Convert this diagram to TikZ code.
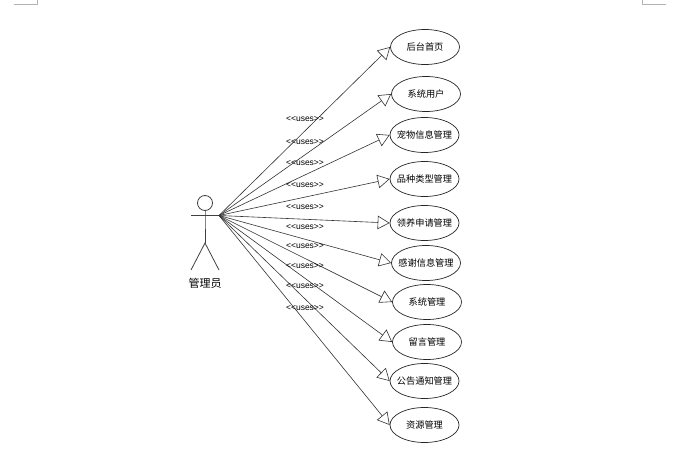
\documentclass[tikz,border=0pt]{standalone}
\usepackage{fontspec}
\setmainfont{Liberation Sans}
\newfontfamily\cjk{Noto Sans CJK SC}
\usetikzlibrary{arrows.meta,shapes.geometric}
\tikzset{
  usecase/.style={draw=black!85,ellipse,minimum width=69pt,minimum height=35pt,inner sep=0pt,font=\cjk\fontsize{9.2}{10}\selectfont,line width=0.7pt},
  assoc/.style={draw=black!80,line width=0.6pt,-{Triangle[open,length=12pt,width=13.5pt,fill=white]}},
  stick/.style={draw=black!75,line width=0.8pt},
  stereo/.style={font=\fontsize{8.5}{9}\selectfont,inner sep=0pt},
  actorname/.style={font=\cjk\fontsize{11}{12}\selectfont,inner sep=0pt},
  pagemark/.style={draw=black!30,line width=0.7pt}
}
\begin{document}
\begin{tikzpicture}[x=1pt,y=-1pt]
\useasboundingbox (0,0) rectangle (693,457);
\draw[pagemark] (14,4) -- (37,4) -- (37,0);
\draw[pagemark] (642,0) -- (642,4) -- (666,4);
\node[draw=black!75,line width=0.8pt,circle,minimum size=15pt,inner sep=0pt] (head) at (205,203) {};
\coordinate (armL) at (191,215.5);
\coordinate (hand) at (219,215.5);
\coordinate (hip) at (205,243);
\coordinate (footL) at (191,270);
\coordinate (footR) at (219,270);
\coordinate (neck) at (205,215.5);
\draw[stick] (armL) -- (hand);
\draw[stick] (head) -- (neck) -- (hip);
\draw[stick] (footL) -- (hip) -- (footR);
\node[actorname] (actor) at (205,283) {管理员};
\foreach \n/\x/\y/\t in {a/425/47/后台首页,b/426/94/系统用户,c/424.5/135/宠物信息管理,d/424.5/179/品种类型管理,e/424.5/223/领养申请管理,f/426/263/感谢信息管理,g/427/302/系统管理,h/427/342/留言管理,i/424.5/381/公告通知管理,j/424.5/425/资源管理}{
  \node[usecase] (\n) at (\x,\y) {\makebox[20pt][c]{\t}};
  \draw[assoc] (hand) -- (\n.west);
}
\foreach \m/\y in {1/119,2/142,3/163,4/185,5/207,6/227,7/246,8/266,9/286,10/308}{
  \node[stereo] (uses\m) at (305,\y) {<{}<uses>{}>};
}
\end{tikzpicture}
\end{document}
